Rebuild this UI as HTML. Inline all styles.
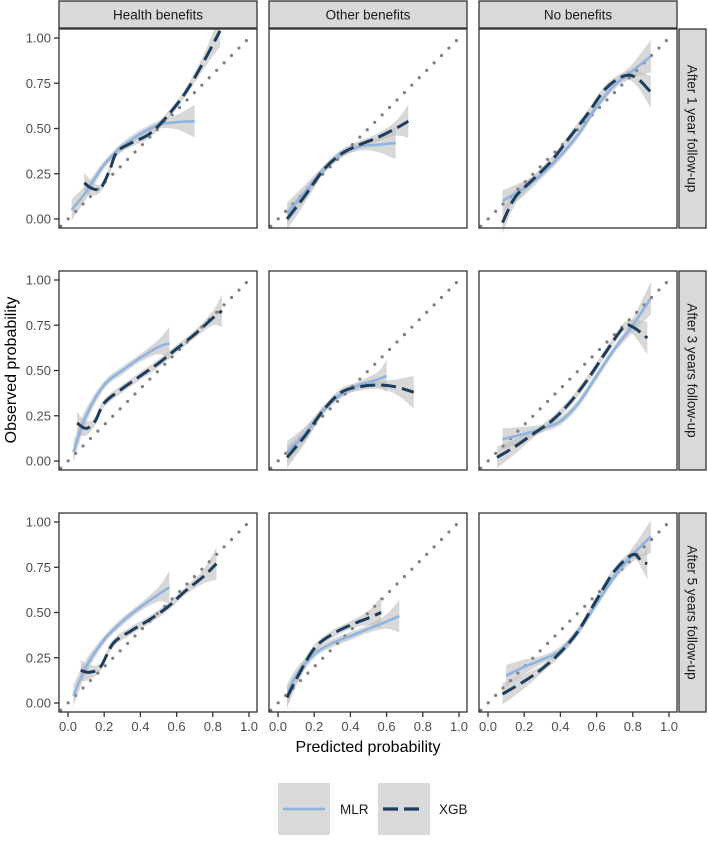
<!DOCTYPE html>
<html><head><meta charset="utf-8"><style>
body{margin:0;background:#fff;width:708px;height:837px;overflow:hidden;font-family:"Liberation Sans",sans-serif}
</style></head><body>
<svg id="chart" width="708" height="837" xmlns="http://www.w3.org/2000/svg" font-family="Liberation Sans, sans-serif"></svg>
<script>
// ---- data ----
const colLabels = ["Health benefits","Other benefits","No benefits"];
const rowLabels = ["After 1 year follow-up","After 3 years follow-up","After 5 years follow-up"];
const tickVals = [0,0.25,0.5,0.75,1];
const tickLabelsY = ["0.00","0.25","0.50","0.75","1.00"];
const tickValsX = [0,0.2,0.4,0.6,0.8,1];
const tickLabelsX = ["0.0","0.2","0.4","0.6","0.8","1.0"];
// MLR series per panel [row][col]: x and y
const mlrX = [
 [[0.02,0.1,0.2,0.3,0.4,0.5,0.6,0.7],[0.05,0.15,0.25,0.35,0.45,0.55,0.65],[0.08,0.2,0.3,0.4,0.5,0.6,0.7,0.8,0.9]],
 [[0.03,0.1,0.2,0.3,0.4,0.5,0.56],[0.05,0.15,0.25,0.35,0.45,0.55,0.6],[0.08,0.2,0.3,0.4,0.5,0.6,0.7,0.8,0.9]],
 [[0.03,0.1,0.2,0.3,0.4,0.5,0.56],[0.05,0.1,0.2,0.3,0.4,0.5,0.6,0.67],[0.1,0.2,0.3,0.4,0.5,0.6,0.7,0.8,0.9]]];
const mlrY = [
 [[0.05,0.15,0.3,0.4,0.47,0.52,0.535,0.54],[0.03,0.15,0.27,0.36,0.4,0.41,0.42],[0.1,0.17,0.25,0.35,0.47,0.62,0.74,0.82,0.9]],
 [[0.05,0.25,0.42,0.5,0.57,0.63,0.65],[0.05,0.15,0.28,0.37,0.42,0.45,0.47],[0.12,0.15,0.18,0.22,0.32,0.47,0.62,0.75,0.9]],
 [[0.04,0.2,0.35,0.45,0.53,0.6,0.64],[0.04,0.15,0.27,0.33,0.37,0.41,0.45,0.48],[0.15,0.2,0.24,0.29,0.4,0.55,0.7,0.82,0.92]]];
const xgbX = [
 [[0.09,0.13,0.18,0.23,0.27,0.35,0.45,0.55,0.65,0.75,0.84],[0.05,0.15,0.25,0.35,0.45,0.55,0.65,0.72],[0.08,0.15,0.25,0.35,0.45,0.55,0.65,0.75,0.82,0.9]],
 [[0.05,0.1,0.15,0.2,0.3,0.4,0.5,0.6,0.7,0.8,0.85],[0.05,0.15,0.25,0.35,0.45,0.55,0.65,0.75],[0.05,0.15,0.25,0.35,0.45,0.55,0.65,0.75,0.8,0.88]],
 [[0.07,0.12,0.18,0.25,0.35,0.45,0.55,0.65,0.75,0.82],[0.05,0.1,0.2,0.3,0.4,0.5,0.57],[0.08,0.2,0.3,0.4,0.5,0.6,0.7,0.8,0.85,0.88]]];
const xgbY = [
 [[0.2,0.17,0.17,0.27,0.37,0.42,0.47,0.57,0.7,0.87,1.04],[0,0.13,0.27,0.36,0.41,0.45,0.5,0.54],[-0.02,0.12,0.22,0.32,0.45,0.58,0.72,0.79,0.78,0.7]],
 [[0.21,0.18,0.22,0.32,0.4,0.47,0.54,0.62,0.7,0.79,0.83],[0.02,0.14,0.28,0.38,0.41,0.42,0.41,0.38],[0.02,0.08,0.15,0.22,0.32,0.45,0.6,0.74,0.74,0.68]],
 [[0.18,0.17,0.2,0.33,0.4,0.46,0.53,0.62,0.7,0.77],[0.03,0.13,0.3,0.38,0.43,0.47,0.5],[0.05,0.12,0.19,0.28,0.4,0.57,0.73,0.82,0.78,0.77]]];

const colLeft=[59,269,479], rowTop=[29,271,513], PW=198, PH=199;
const svg=document.getElementById('chart');
const NS="http://www.w3.org/2000/svg";
function mk(tag,attrs,parent){const e=document.createElementNS(NS,tag);for(const k in attrs)e.setAttribute(k,attrs[k]);(parent||svg).appendChild(e);return e;}
function sx(c,v){return colLeft[c]+9+v*181;}
function sy(r,v){return rowTop[r]+PH-9-v*181;}
function smooth(pts){let d="M"+pts[0][0]+","+pts[0][1];for(let i=0;i<pts.length-1;i++){const p0=pts[Math.max(i-1,0)],p1=pts[i],p2=pts[i+1],p3=pts[Math.min(i+2,pts.length-1)];
const c1=[p1[0]+(p2[0]-p0[0])/6,p1[1]+(p2[1]-p0[1])/6],c2=[p2[0]-(p3[0]-p1[0])/6,p2[1]-(p3[1]-p1[1])/6];d+=" C"+c1+" "+c2+" "+p2;}return d;}
function band(r,c,xs,ys){const n=xs.length;const up=[],lo=[];
 for(let i=0;i<n;i++){const t=Math.min(i,n-1-i);const hw=t===0?(i===0?0.06:0.09):(t===1?0.04:0.022);up.push([sx(c,xs[i]),sy(r,ys[i]+hw)]);lo.push([sx(c,xs[i]),sy(r,ys[i]-hw)]);}
 lo.reverse();let d=smooth(up)+" L"+lo[0]+smooth(lo).slice(1).replace(/^[^C]*/,"")+"Z";
 return d;}

for(let r=0;r<3;r++)for(let c=0;c<3;c++){
 const g=mk('g',{});
 
 
 mk('rect',{x:colLeft[c],y:rowTop[r],width:PW,height:PH,fill:'#fff'},g);
 const b1=mk('path',{d:band(r,c,xgbX[r][c],xgbY[r][c]),fill:'#bebebe','fill-opacity':0.6},g);
 
 const b2=mk('path',{d:band(r,c,mlrX[r][c],mlrY[r][c]),fill:'#bebebe','fill-opacity':0.6},g);
 
 const dl=mk('line',{x1:sx(c,-0.04),y1:sy(r,-0.04),x2:sx(c,1),y2:sy(r,1),stroke:'#808080','stroke-width':3.2,'stroke-dasharray':'0 10.5','stroke-linecap':'round'},g);
 
 const mp=mk('path',{d:smooth(mlrX[r][c].map((x,i)=>[sx(c,x),sy(r,mlrY[r][c][i])])),fill:'none',stroke:'#8fb4e0','stroke-width':2.6},g);
 
 const xp=mk('path',{d:smooth(xgbX[r][c].map((x,i)=>[sx(c,x),sy(r,xgbY[r][c][i])])),fill:'none',stroke:'#1c3d5c','stroke-width':3,'stroke-dasharray':'15 6'},g);
 
 const br=mk('rect',{x:colLeft[c],y:rowTop[r],width:PW,height:PH,fill:'none',stroke:'#333','stroke-width':1.3},g);
 
 if(c===0){tickVals.forEach((v,i)=>{mk('line',{x1:colLeft[0]-5,x2:colLeft[0],y1:sy(r,v),y2:sy(r,v),stroke:'#333','stroke-width':1.3});
  const t=mk('text',{x:colLeft[0]-8,y:sy(r,v)+4.5,'text-anchor':'end','font-size':13,fill:'#4d4d4d'});t.textContent=tickLabelsY[i];
  });}
 if(r===2){tickValsX.forEach((v,i)=>{mk('line',{x1:sx(c,v),x2:sx(c,v),y1:rowTop[2]+PH,y2:rowTop[2]+PH+5,stroke:'#333','stroke-width':1.3});
  const t=mk('text',{x:sx(c,v),y:rowTop[2]+PH+19,'text-anchor':'middle','font-size':13,fill:'#4d4d4d'});t.textContent=tickLabelsX[i];
  });}
}
mk('rect',{x:0,y:0,width:708,height:28,fill:'#fff'});
colLabels.forEach((l,c)=>{const s=mk('rect',{x:colLeft[c],y:1,width:PW,height:27,fill:'#d9d9d9',stroke:'#333','stroke-width':1.3});
 
 const t=mk('text',{x:colLeft[c]+PW/2,y:19.5,'text-anchor':'middle','font-size':13.5,fill:'#1a1a1a'});t.textContent=l;
 });
rowLabels.forEach((l,r)=>{const s=mk('rect',{x:679,y:rowTop[r],width:27,height:PH,fill:'#d9d9d9',stroke:'#333','stroke-width':1.3});
 
 const cx=692.5,cy=rowTop[r]+PH/2;
 const t=mk('text',{x:cx,y:cy+5,'text-anchor':'middle','font-size':13.5,fill:'#1a1a1a',transform:'rotate(90 '+cx+' '+cy+')'});t.textContent=l;
 });
const xt=mk('text',{x:368,y:752,'text-anchor':'middle','font-size':16,fill:'#000'});xt.textContent='Predicted probability';

const yt=mk('text',{x:16,y:370,'text-anchor':'middle','font-size':16,fill:'#000',transform:'rotate(-90 16 370)'});yt.textContent='Observed probability';

const lg=mk('g',{});
const k1=mk('rect',{x:278,y:783,width:52,height:52,fill:'#d9d9d9'},lg);
mk('line',{x1:283,x2:325,y1:809,y2:809,stroke:'#8fb4e0','stroke-width':2.8},lg);
const l1=mk('text',{x:340,y:814,'font-size':13.5,fill:'#1a1a1a'},lg);l1.textContent='MLR';
const k2=mk('rect',{x:378,y:783,width:52,height:52,fill:'#d9d9d9'},lg);
mk('line',{x1:383,x2:425,y1:809,y2:809,stroke:'#1c3d5c','stroke-width':3.2,'stroke-dasharray':'15 6'},lg);
const l2=mk('text',{x:439,y:814,'font-size':13.5,fill:'#1a1a1a'},lg);l2.textContent='XGB';
</script>
</body></html>
